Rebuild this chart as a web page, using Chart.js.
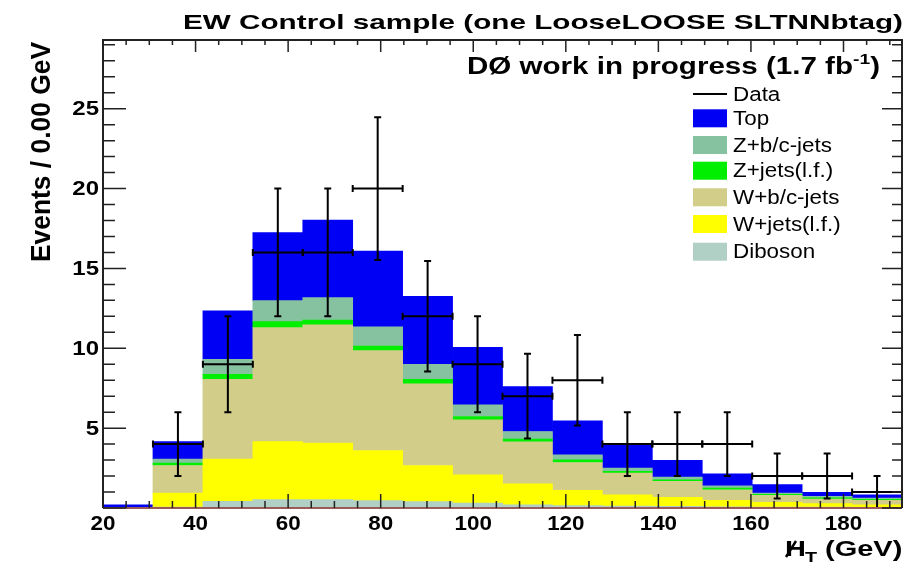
<!DOCTYPE html>
<html>
<head>
<meta charset="utf-8">
<script src="https://cdn.jsdelivr.net/npm/chart.js@4.4.0/dist/chart.umd.min.js"></script>
<style>
  html, body { margin: 0; padding: 0; background: #fff; }
</style>
</head>
<body>
<canvas id="myChart" width="915" height="565"></canvas>
<script>
// bins (GeV)
const binCenters = [25.40, 36.19, 46.98, 57.77, 68.56, 79.35, 90.14, 100.93, 111.72, 122.51, 133.30, 144.09, 154.88, 165.67, 176.46, 187.25];
const binWidth = 10.79;

// backgrounds, bottom to top of the stack
const diboson  = [0, 0.05, 0.41, 0.52, 0.52, 0.46, 0.40, 0.31, 0.20, 0.15, 0.12, 0.10, 0.08, 0.06, 0.05, 0.04];
const wLight   = [0, 0.89, 2.65, 3.64, 3.54, 3.14, 2.26, 1.77, 1.32, 0.95, 0.71, 0.57, 0.40, 0.29, 0.22, 0.16];
const wHeavy   = [0, 1.72, 5.00, 7.13, 7.40, 6.25, 5.11, 3.44, 2.62, 1.75, 1.36, 1.00, 0.66, 0.44, 0.29, 0.28];
const zLight   = [0, 0.15, 0.31, 0.38, 0.31, 0.29, 0.29, 0.21, 0.17, 0.17, 0.10, 0.10, 0.11, 0.07, 0.08, 0.07];
const zHeavy   = [0, 0.25, 0.94, 1.31, 1.40, 1.21, 0.94, 0.73, 0.48, 0.31, 0.21, 0.17, 0.14, 0.08, 0.09, 0.07];
const topQuark = [0.2, 1.10, 3.04, 4.27, 4.85, 4.73, 4.25, 3.60, 2.81, 2.13, 1.46, 1.04, 0.75, 0.52, 0.25, 0.21];

// data
const dataCounts = [null, 4, 9, 16, 16, 20, 12, 9, 7, 8, 4, 4, 4, 2, 2, 1];
const dataErrors = [null, 2, 3, 4, 4, 4.47, 3.46, 3, 2.65, 2.83, 2, 2, 2, 1.41, 1.41, 1];

// axes
const xTickLabels = [20, 40, 60, 80, 100, 120, 140, 160, 180];
const yTickLabels = [5, 10, 15, 20, 25];
const xMin = 20, xMax = 192.64, yMax = 29.3;

const FONT = '"Liberation Sans", Arial, Helvetica, sans-serif';

function pts(arr) {
  return binCenters.map((c, i) => ({ x: c, y: arr[i] }));
}

function stretchText(ctx, text, x, y, font, sx, align) {
  ctx.save();
  ctx.font = font;
  const w = ctx.measureText(text).width * sx;
  let x0 = x;
  if (align === 'right') x0 = x - w;
  if (align === 'center') x0 = x - w / 2;
  ctx.translate(x0, y);
  ctx.scale(sx, 1);
  ctx.textAlign = 'left';
  ctx.fillText(text, 0, 0);
  ctx.restore();
  return w;
}

const errorBars = {
  id: 'errorBars',
  afterDatasetsDraw(chart) {
    const ctx = chart.ctx;
    const xs = chart.scales.x, ys = chart.scales.y;
    ctx.save();
    ctx.strokeStyle = '#000';
    ctx.lineWidth = 2;
    const cap = 3.5;
    dataCounts.forEach((n, i) => {
      if (n === null) return;
      const cx = xs.getPixelForValue(binCenters[i]);
      const cy = ys.getPixelForValue(n);
      const xl = xs.getPixelForValue(binCenters[i] - binWidth / 2);
      const xr = xs.getPixelForValue(binCenters[i] + binWidth / 2);
      const yt = ys.getPixelForValue(n + dataErrors[i]);
      const yb = ys.getPixelForValue(Math.max(0, n - dataErrors[i]));
      ctx.beginPath();
      ctx.moveTo(xl, cy); ctx.lineTo(xr, cy);
      ctx.moveTo(cx, yt); ctx.lineTo(cx, yb);
      ctx.moveTo(xl, cy - cap); ctx.lineTo(xl, cy + cap);
      ctx.moveTo(xr, cy - cap); ctx.lineTo(xr, cy + cap);
      ctx.moveTo(cx - cap, yt); ctx.lineTo(cx + cap, yt);
      ctx.moveTo(cx - cap, yb); ctx.lineTo(cx + cap, yb);
      ctx.stroke();
    });
    ctx.restore();
  }
};

const frame = {
  id: 'frame',
  afterDraw(chart) {
    const ctx = chart.ctx;
    const a = chart.chartArea;
    const xs = chart.scales.x, ys = chart.scales.y;
    ctx.save();

    // brownish baseline
    ctx.strokeStyle = '#9a5a5a';
    ctx.lineWidth = 2;
    ctx.beginPath();
    ctx.moveTo(a.left, a.bottom); ctx.lineTo(a.right, a.bottom);
    ctx.stroke();

    ctx.strokeStyle = '#222';
    ctx.lineWidth = 2;
    ctx.beginPath();
    ctx.moveTo(a.left, a.bottom); ctx.lineTo(a.left, a.top);
    ctx.lineTo(a.right, a.top); ctx.lineTo(a.right, a.bottom);
    ctx.stroke();

    // ticks
    ctx.lineWidth = 1.5;
    ctx.beginPath();
    for (let v = 20; v <= xMax; v += 5) {
      const px = xs.getPixelForValue(v);
      const major = v % 20 === 0;
      ctx.moveTo(px, a.bottom); ctx.lineTo(px, a.bottom - (major ? 14 : 7));
      ctx.moveTo(px, a.top); ctx.lineTo(px, a.top + (major ? 12 : 5));
    }
    for (let v = 0; v <= yMax; v += 1) {
      const py = ys.getPixelForValue(v);
      const major = v % 5 === 0;
      ctx.moveTo(a.left, py); ctx.lineTo(a.left + (major ? 23 : 12), py);
      ctx.moveTo(a.right, py); ctx.lineTo(a.right - (major ? 20 : 10), py);
    }
    ctx.stroke();

    // tick labels
    ctx.fillStyle = '#000';
    ctx.textBaseline = 'alphabetic';
    xTickLabels.forEach(v => {
      stretchText(ctx, String(v), xs.getPixelForValue(v), 530, 'bold 20px ' + FONT, 1.12, 'center');
    });
    ctx.textBaseline = 'middle';
    yTickLabels.forEach(v => {
      stretchText(ctx, String(v), 99, ys.getPixelForValue(v) + 1, 'bold 20px ' + FONT, 1.2, 'right');
    });

    // title
    ctx.textBaseline = 'alphabetic';
    const title = 'EW Control sample (one LooseLOOSE SLTNNbtag)';
    ctx.font = 'bold 21px ' + FONT;
    const tw = ctx.measureText(title).width;
    stretchText(ctx, title, 903, 29, 'bold 21px ' + FONT, 720 / tw, 'right');

    // DØ label with superscript
    const p1 = 'DØ work in progress (1.7 fb', sup = '-1', p2 = ')';
    ctx.font = 'bold 23px ' + FONT;
    const w1 = ctx.measureText(p1).width, w3 = ctx.measureText(p2).width;
    ctx.font = 'bold 15px ' + FONT;
    const w2 = ctx.measureText(sup).width;
    const sx = 413 / (w1 + w2 + w3);
    let x = 467;
    x += stretchText(ctx, p1, x, 74, 'bold 23px ' + FONT, sx, 'left');
    x += stretchText(ctx, sup, x, 64, 'bold 15px ' + FONT, sx, 'left');
    stretchText(ctx, p2, x, 74, 'bold 23px ' + FONT, sx, 'left');

    // x axis title: missing H_T (GeV), fitted between 785 and 902
    const big = 'bold 22px ' + FONT, small = 'bold 15px ' + FONT;
    ctx.font = big;
    const wH = ctx.measureText('H').width, wG = ctx.measureText(' (GeV)').width;
    ctx.font = small;
    const wT = ctx.measureText('T').width;
    const xsx = 117 / (wH + wT + wG - 1);
    let xt = 785;
    const hw = stretchText(ctx, 'H', xt, 556, big, xsx, 'left');
    ctx.strokeStyle = '#000';
    ctx.lineWidth = 2.5;
    ctx.beginPath();
    ctx.moveTo(xt + 1, 557); ctx.lineTo(xt + 11, 541);
    ctx.stroke();
    xt += hw - 1;
    xt += stretchText(ctx, 'T', xt, 562, small, xsx, 'left');
    stretchText(ctx, ' (GeV)', xt, 556, big, xsx, 'left');

    // y axis title, right aligned at the top
    ctx.save();
    ctx.translate(50, 42);
    ctx.rotate(-Math.PI / 2);
    const yl = 'Events / 0.00 GeV';
    ctx.font = 'bold 28px ' + FONT;
    const yw = ctx.measureText(yl).width;
    stretchText(ctx, yl, 0, 0, 'bold 28px ' + FONT, 220 / yw, 'right');
    ctx.restore();

    // legend
    const rows = [94, 118.3, 145, 170.7, 197.3, 224, 251.7];
    const entries = [{ label: 'Data', line: true }];
    for (let i = chart.data.datasets.length - 1; i >= 0; i--) {
      const ds = chart.data.datasets[i];
      if (ds.type === 'line') continue;
      entries.push({ label: ds.label, color: ds.backgroundColor });
    }
    ctx.textBaseline = 'middle';
    entries.forEach((e, i) => {
      const ry = rows[i];
      if (e.line) {
        ctx.strokeStyle = '#000';
        ctx.lineWidth = 2;
        ctx.beginPath();
        ctx.moveTo(693, ry); ctx.lineTo(727, ry);
        ctx.stroke();
      } else {
        ctx.fillStyle = e.color;
        ctx.fillRect(693, ry - 9, 34, 18);
      }
      ctx.fillStyle = '#000';
      stretchText(ctx, e.label, 733, ry + 1, '20px ' + FONT, 1.12, 'left');
    });

    ctx.restore();
  }
};

const ctx = document.getElementById('myChart');

new Chart(ctx, {
  type: 'bar',
  data: {
    datasets: [
      { label: 'Diboson', data: pts(diboson), backgroundColor: '#b0d0c6' },
      { label: 'W+jets(l.f.)', data: pts(wLight), backgroundColor: '#ffff00' },
      { label: 'W+b/c-jets', data: pts(wHeavy), backgroundColor: '#d2cd88' },
      { label: 'Z+jets(l.f.)', data: pts(zLight), backgroundColor: '#00ee00' },
      { label: 'Z+b/c-jets', data: pts(zHeavy), backgroundColor: '#86c2a0' },
      { label: 'Top', data: pts(topQuark), backgroundColor: '#0000f5' },
      { type: 'line', label: 'Data', data: pts(dataCounts), showLine: false, pointRadius: 0, borderColor: '#000' }
    ]
  },
  options: {
    responsive: false,
    devicePixelRatio: 1,
    animation: false,
    layout: { padding: { left: 103, right: 13, top: 40, bottom: 57 } },
    datasets: { bar: { barPercentage: 1, categoryPercentage: 1, borderWidth: 0 } },
    plugins: { legend: { display: false }, tooltip: { enabled: false } },
    scales: {
      x: { type: 'linear', min: xMin, max: xMax, stacked: true, offset: false, display: false },
      y: { type: 'linear', min: 0, max: yMax, stacked: true, display: false }
    }
  },
  plugins: [errorBars, frame]
});
</script>
</body>
</html>
